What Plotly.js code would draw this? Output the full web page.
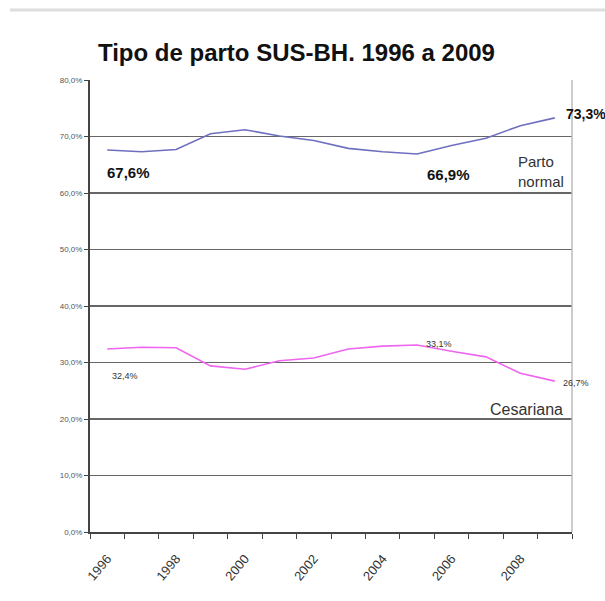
<!DOCTYPE html>
<html><head><meta charset="utf-8">
<script src="https://cdn.plot.ly/plotly-3.0.1.min.js"></script>
<style>body{margin:0;background:#fff}#c{width:605px;height:601px}</style>
</head><body><div id="c"></div>
<script>
const years = [1996,1997,1998,1999,2000,2001,2002,2003,2004,2005,2006,2007,2008,2009];
const partoNormal = [67.6,67.3,67.7,70.5,71.2,70.1,69.3,67.9,67.3,66.9,68.4,69.7,71.9,73.3];
const cesariana   = [32.4,32.7,32.6,29.4,28.8,30.3,30.8,32.4,32.9,33.1,32.0,31.0,28.1,26.7];
const xTickVals = [1996,1998,2000,2002,2004,2006,2008];
const yTickVals = [0,10,20,30,40,50,60,70,80];
const yTickText = ['0,0%','10,0%','20,0%','30,0%','40,0%','50,0%','60,0%','70,0%','80,0%'];

const traces = [
  {x: years, y: partoNormal, mode:'lines', line:{color:'#6f6fc0', width:1.6}, hoverinfo:'skip'},
  {x: years, y: cesariana, mode:'lines', line:{color:'#ee66ee', width:1.6}, hoverinfo:'skip'}
];
const fmt = v => v.toFixed(1).replace('.', ',') + '%';
const FN = 'Liberation Sans, Arial, sans-serif';
const big = {family:FN, size:15, color:'#111'};
const small = {family:FN, size:9, color:'#333'};
const annotations = [
  {x: years[0], y: partoNormal[0], text:'<b>'+fmt(partoNormal[0])+'</b>', showarrow:false, xanchor:'left', yanchor:'top', yshift:-12, xshift:-2, font:big},
  {x: years[9], y: partoNormal[9], text:'<b>'+fmt(partoNormal[9])+'</b>', showarrow:false, xanchor:'left', yanchor:'top', yshift:-10, xshift:8, font:big},
  {x: years[13], y: partoNormal[13], text:'<b>'+fmt(partoNormal[13])+'</b>', showarrow:false, xanchor:'left', yanchor:'middle', yshift:4, xshift:9, font:{family:FN, size:14, color:'#111'}},
  {x: years[12], y: partoNormal[12], text:'Parto<br>normal', showarrow:false, xanchor:'left', yanchor:'top', yshift:-25, xshift:-4, align:'left', font:{family:FN, size:15, color:'#333'}},
  {x: years[0], y: cesariana[0], text:fmt(cesariana[0]), showarrow:false, xanchor:'left', yanchor:'top', yshift:-20, xshift:3, font:small},
  {x: years[9], y: cesariana[9], text:fmt(cesariana[9]), showarrow:false, xanchor:'left', yanchor:'middle', yshift:1, xshift:7, font:small},
  {x: years[13], y: cesariana[13], text:fmt(cesariana[13]), showarrow:false, xanchor:'left', yanchor:'middle', yshift:-2, xshift:6, font:small},
  {x: years[13], y: 20, text:'Cesariana', showarrow:false, xanchor:'right', yanchor:'bottom', yshift:-1, xshift:10, font:{family:FN, size:16, color:'#333'}}
];
const layout = {
  width:605, height:601,
  margin:{l:90, r:33, t:80, b:69},
  paper_bgcolor:'#fff', plot_bgcolor:'#fff',
  showlegend:false,
  title:{text:'<b>Tipo de parto SUS-BH. 1996 a 2009</b>', x:0.49, xanchor:'center', y:0.912, yanchor:'middle',
    font:{family:FN, size:24, color:'#111'}},
  xaxis:{range:[1995.5, 2009.5], tickvals:xTickVals, ticktext:xTickVals.map(String), tickangle:-50,
    ticks:'', showgrid:false, zeroline:false, showline:true, linecolor:'#444', linewidth:2, ticklabelstandoff:12,
    minor:{tick0:1995.5, dtick:1, ticks:'outside', ticklen:5, tickcolor:'#444', tickwidth:1, showgrid:false},
    tickfont:{family:FN, size:13, color:'#333'}},
  yaxis:{range:[0,80], tickvals:yTickVals, ticktext:yTickText, ticks:'outside', ticklen:4, tickcolor:'#444',
    showgrid:true, gridcolor:'#666', gridwidth:1.5, zeroline:false, showline:true, linecolor:'#444', linewidth:2,
    tickfont:{family:FN, size:8, color:'#555'}},
  shapes:[
    {type:'line', xref:'paper', yref:'paper', x0:1, x1:1, y0:0, y1:1, line:{color:'#bbb', width:1.5}},
    {type:'line', xref:'paper', yref:'paper', x0:-80/482, x1:1+33/482, y0:1+70/452, y1:1+70/452, line:{color:'#ddd', width:3}}
  ],
  annotations: annotations
};
Plotly.newPlot('c', traces, layout, {staticPlot:true, displayModeBar:false});
</script></body></html>
